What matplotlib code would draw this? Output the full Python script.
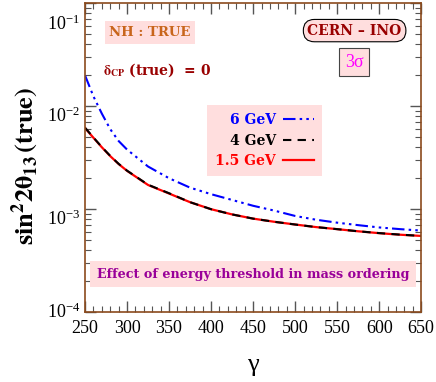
import matplotlib
matplotlib.use("Agg")
import matplotlib.pyplot as plt
import matplotlib.transforms as mtrans
from matplotlib.ticker import LogLocator, MultipleLocator, NullFormatter

plt.rcParams['font.family'] = ['DejaVu Serif']
plt.rcParams['mathtext.fontset'] = 'stix'

# gamma (boost factor) grid
gamma = [250, 260, 270, 280, 290, 300, 325, 350, 375, 400, 425, 450,
         475, 500, 525, 550, 575, 600, 625, 650]

# sin^2 2theta13 (true) sensitivity for each energy threshold
th_6gev = [2.0e-2, 1.25e-2, 8.5e-3, 6.0e-3, 4.6e-3, 3.8e-3, 2.6e-3, 2.0e-3,
           1.62e-3, 1.4e-3, 1.23e-3, 1.08e-3, 9.7e-4, 8.6e-4, 7.9e-4, 7.4e-4,
           7.0e-4, 6.65e-4, 6.4e-4, 6.2e-4]
th_4gev = [6.2e-3, 4.98e-3, 4.02e-3, 3.3e-3, 2.76e-3, 2.37e-3, 1.73e-3, 1.43e-3,
           1.17e-3, 1.0e-3, 8.9e-4, 8.1e-4, 7.55e-4, 7.1e-4, 6.7e-4, 6.4e-4,
           6.1e-4, 5.86e-4, 5.66e-4, 5.5e-4]
th_15gev = [6.15e-3, 4.95e-3, 4.0e-3, 3.28e-3, 2.75e-3, 2.36e-3, 1.72e-3, 1.42e-3,
            1.17e-3, 1.0e-3, 8.9e-4, 8.1e-4, 7.55e-4, 7.1e-4, 6.7e-4, 6.4e-4,
            6.1e-4, 5.85e-4, 5.65e-4, 5.5e-4]

pink = '#FFDEDE'
brown = '#8B4A1C'

fig = plt.figure(figsize=(4.36, 3.82), dpi=100)
ax = fig.add_axes([0.195, 0.183, 0.771, 0.808])

l6, = ax.plot(gamma, th_6gev, color='blue', lw=1.5,
              linestyle=(0, (6, 2, 1.2, 2, 1.2, 2, 1.2, 2)))
l15, = ax.plot(gamma, th_15gev, color='red', lw=1.6)
l4, = ax.plot(gamma, th_4gev, color='black', lw=1.5, linestyle=(0, (4, 3)))

ax.set_yscale('log')
ax.set_xlim(250, 650)
ax.set_ylim(1e-4, 1e-1)

ax.xaxis.set_major_locator(MultipleLocator(50))
ax.xaxis.set_minor_locator(MultipleLocator(10))
ax.yaxis.set_major_locator(LogLocator(base=10, numticks=10))
ax.yaxis.set_minor_locator(LogLocator(base=10, subs=range(2, 10), numticks=10))
ax.yaxis.set_minor_formatter(NullFormatter())

for s in ax.spines.values():
    s.set_color(brown)
    s.set_linewidth(1.2)
ax.tick_params(which='both', direction='in', top=True, right=True, color='#555555')
ax.tick_params(which='major', length=8, width=1)
ax.tick_params(which='minor', length=4, width=0.8)
for lab in ax.get_xticklabels() + ax.get_yticklabels():
    lab.set_fontfamily('Liberation Serif')
    lab.set_fontsize(13)
ax.tick_params(axis='x', pad=6)

# y tick labels: "10" sits a little below its tick, like the original
for val, lab in zip(ax.get_yticks(), ax.get_yticklabels()):
    lab.set_va('top')
    if abs(val - 1e-4) < 1e-9:
        lab.set_va('center')
    if abs(val - 1e-1) < 1e-6:
        lab.set_transform(lab.get_transform() +
                          mtrans.ScaledTranslation(0, -8 / 72, fig.dpi_scale_trans))

ax.set_xlabel('γ', fontsize=19, labelpad=12, family='Liberation Serif')
ax.set_ylabel(r'$\mathbf{sin^22\theta_{13}\,(true)}$', fontsize=19)
ax.yaxis.set_label_coords(-0.13, 0.475)

ax.text(0.193, 0.906, 'NH : TRUE', transform=ax.transAxes, color='#C8651B',
        fontsize=9.5, fontweight='bold', ha='center', va='center',
        bbox=dict(boxstyle='square,pad=0.35', fc=pink, ec='none'))
ax.text(0.054, 0.784, r'$\mathbf{\delta}_{\mathbf{CP}}$ (true)  = 0', transform=ax.transAxes,
        color='#990000', fontsize=10, fontweight='bold', ha='left', va='center')
ax.text(0.802, 0.912, 'CERN – INO', transform=ax.transAxes, color='#990000',
        fontsize=10, fontweight='bold', ha='center', va='center',
        bbox=dict(boxstyle='round,pad=0.3,rounding_size=0.8', fc=pink, ec='black', lw=0.8))
ax.text(0.80, 0.81, '3σ', transform=ax.transAxes, color='#FF00FF',
        fontsize=13, ha='center', va='center', family='Liberation Serif',
        bbox=dict(boxstyle='square,pad=0.3', fc=pink, ec='#444444', lw=0.8))
ax.text(0.5, 0.123, 'Effect of energy threshold in mass ordering', transform=ax.transAxes,
        color='#990099', fontsize=9.2, fontweight='bold', ha='center', va='center',
        bbox=dict(boxstyle='square,pad=0.5', fc=pink, ec='none'))

leg = ax.legend([l6, l4, l15], ['6 GeV', '4 GeV', '1.5 GeV'], loc='upper left',
                bbox_to_anchor=(0.363, 0.671), borderaxespad=0, markerfirst=False,
                frameon=True, fancybox=False, handlelength=2.2, handletextpad=0.5,
                labelspacing=0.45, borderpad=0.6,
                prop={'weight': 'bold', 'size': 10, 'family': 'DejaVu Serif'})
leg.get_frame().set_facecolor(pink)
leg.get_frame().set_edgecolor('none')
leg.get_frame().set_alpha(1)
for t, c in zip(leg.get_texts(), ['blue', 'black', 'red']):
    t.set_color(c)
    t.set_ha('right')
leg._legend_box.align = 'right'

fig.savefig('out.png', dpi=100)
